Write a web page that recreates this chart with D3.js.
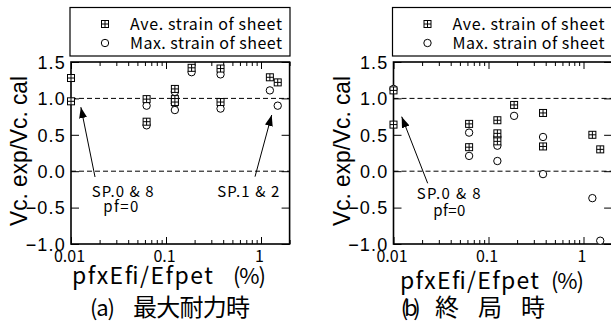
<!DOCTYPE html>
<html>
<head>
<meta charset="utf-8">
<script src="https://cdn.jsdelivr.net/npm/d3@7"></script>
<style>
	body{margin:0;background:#fff;}
	svg{display:block;}
	text{fill:#000;}
</style>
</head>
<body>
<div id="app"></div>
<script>
// pfxEfi/Efpet (%) ; pf=0 specimens are put on the 0.01 axis
const xA = [0.01, 0.01, 0.0625, 0.0625, 0.124, 0.124, 0.124, 0.186, 0.375, 0.375, 1.24, 1.5];
const aveA = [1.28, 0.96, 0.99, 0.68, 1.13, 0.99, 0.95, 1.42, 1.41, 0.95, 1.29, 1.22];
const maxA = [null, null, 0.90, 0.63, 1.09, 0.93, 0.84, 1.36, 1.33, 0.86, 1.11, 0.90];

const xB = [0.01, 0.01, 0.0625, 0.0625, 0.124, 0.124, 0.124, 0.186, 0.375, 0.375, 1.24, 1.5];
const aveB = [1.11, 0.64, 0.65, 0.33, 0.70, 0.52, 0.41, 0.91, 0.80, 0.34, 0.50, 0.30];
const maxB = [1.13, null, 0.53, 0.21, 0.47, 0.35, 0.14, 0.76, 0.47, -0.04, -0.37, -0.955];

const xTicks = [0.01, 0.1, 1];
const xTickLabels = ["0.01", "0.1", "1"];
const xMinor = [0.02,0.03,0.04,0.05,0.06,0.07,0.08,0.09,0.2,0.3,0.4,0.5,0.6,0.7,0.8,0.9,2];
const yTicks = [-1, -0.5, 0, 0.5, 1, 1.5];
const yTickLabels = ["\u22121.0", "\u22120.5", "0.0", "0.5", "1.0", "1.5"];
const refLines = [1, 0];
const legendLabels = ["Ave. strain of sheet", "Max. strain of sheet"];
const yTitle = "Vc. exp/Vc. cal";
const xTitle = "pfxEfi/Efpet";
const xUnit = "(%)";

const W = 611, H = 322;
const gothic = "'Noto Sans CJK JP', sans-serif";
const arial = "'Liberation Sans', Arial, sans-serif";

const svg = d3.select("#app").append("svg").attr("width", W).attr("height", H);

svg.append("defs").append("marker")
	.attr("id", "ah").attr("markerUnits", "userSpaceOnUse")
	.attr("markerWidth", 12).attr("markerHeight", 8)
	.attr("refX", 11).attr("refY", 4).attr("orient", "auto")
	.append("path").attr("d", "M0,0 L11,4 L0,8 Z").attr("fill", "#000");

function squareMark(sel){
	sel.append("rect").attr("x", -3.5).attr("y", -3.5).attr("width", 7).attr("height", 7)
		.attr("fill", "#fff").attr("stroke", "#000").attr("stroke-width", 1);
	sel.append("path").attr("d", "M0,-3.5V3.5M-3.5,0H3.5").attr("stroke", "#000").attr("stroke-width", 1);
}

function txt(g, s, x, y, size, len, family){
	return g.append("text").attr("x", x).attr("y", y)
		.attr("font-family", family || gothic).attr("font-size", size)
		.attr("textLength", len).attr("lengthAdjust", "spacing").text(s);
}

function drawPanel(p){
	const left = p.left, right = left + 218.6, top = 62, bottom = 244;
	const x = d3.scaleLog().domain([0.01, 2]).range([left, right]);
	const y = d3.scaleLinear().domain([-1, 1.5]).range([bottom, top]);
	const g = svg.append("g");

	// legend
	const lg = g.append("g");
	lg.append("rect").attr("x", left - 1).attr("y", 7.5).attr("width", 220).attr("height", 48.5)
		.attr("fill", "none").attr("stroke", "#000").attr("stroke-width", 1.2);
	const sq = lg.append("g").attr("transform", "translate(" + (left + 34) + ",24)");
	squareMark(sq);
	lg.append("circle").attr("cx", left + 34).attr("cy", 43).attr("r", 3.7)
		.attr("fill", "#fff").attr("stroke", "#000");
	legendLabels.forEach(function(t, i){
		txt(lg, t, left + 59, 30 + i * 19, 16, 152);
	});

	// reference lines
	g.selectAll("line.ref").data(refLines).enter().append("line").attr("class", "ref")
		.attr("x1", left).attr("x2", right).attr("y1", d => y(d)).attr("y2", d => y(d))
		.attr("stroke", "#000").attr("stroke-width", 1).attr("stroke-dasharray", "5,3");

	// ticks, inward on all four sides
	const axB = g.append("g").attr("transform", "translate(0," + bottom + ")")
		.call(d3.axisBottom(x).tickValues(xMinor).tickSize(-4).tickSizeOuter(0).tickFormat(""));
	const axBM = g.append("g").attr("transform", "translate(0," + bottom + ")")
		.call(d3.axisBottom(x).tickValues(xTicks).tickSize(-7).tickSizeOuter(0)
			.tickFormat((d, i) => xTickLabels[i]).tickPadding(10));
	const axT = g.append("g").attr("transform", "translate(0," + top + ")")
		.call(d3.axisTop(x).tickValues(xMinor).tickSize(-4).tickSizeOuter(0).tickFormat(""));
	const axTM = g.append("g").attr("transform", "translate(0," + top + ")")
		.call(d3.axisTop(x).tickValues(xTicks).tickSize(-7).tickSizeOuter(0).tickFormat(""));
	const axL = g.append("g").attr("transform", "translate(" + left + ",0)")
		.call(d3.axisLeft(y).tickValues(yTicks).tickSize(-8).tickSizeOuter(0)
			.tickFormat((d, i) => yTickLabels[i]));
	const axR = g.append("g").attr("transform", "translate(" + right + ",0)")
		.call(d3.axisRight(y).tickValues(yTicks).tickSize(-8).tickSizeOuter(0).tickFormat(""));
	[axB, axBM, axT, axTM, axL, axR].forEach(function(a){
		a.select(".domain").remove();
		a.selectAll(".tick line").attr("stroke", "#000").attr("stroke-width", 1);
	});
	axBM.selectAll(".tick text").attr("font-family", gothic).attr("font-size", 16)
		.attr("fill", "#000").attr("dy", null).attr("y", 18).attr("x", -2);
	axL.selectAll(".tick text").attr("font-family", arial).attr("font-size", 18)
		.attr("fill", "#000").attr("x", -5).attr("dy", "0.35em").attr("letter-spacing", "1.2px");

	// frame
	g.append("rect").attr("x", left).attr("y", top).attr("width", right - left).attr("height", bottom - top)
		.attr("fill", "none").attr("stroke", "#000").attr("stroke-width", 1.6);

	// data
	const pts = p.xs.map((d, i) => ({x: d, ave: p.ave[i], max: p.max[i]}));
	g.selectAll("circle.max").data(pts.filter(d => d.max !== null)).enter().append("circle")
		.attr("class", "max").attr("cx", d => x(d.x)).attr("cy", d => y(d.max)).attr("r", 3.7)
		.attr("fill", "#fff").attr("stroke", "#000").attr("stroke-width", 1);
	g.selectAll("g.ave").data(pts).enter().append("g").attr("class", "ave")
		.attr("transform", d => "translate(" + x(d.x) + "," + y(d.ave) + ")")
		.each(function(){ squareMark(d3.select(this)); });

	// annotations
	p.arrows.forEach(function(a){
		g.append("line").attr("x1", x(a[0])).attr("y1", y(a[1])).attr("x2", x(a[2])).attr("y2", y(a[3]))
			.attr("stroke", "#000").attr("stroke-width", 1).attr("marker-end", "url(#ah)");
	});
	p.notes.forEach(function(n){
		txt(g, n[0], left + n[1], n[2], 15, n[3]);
	});

	// titles
	g.append("text").attr("transform", "translate(" + (left - 44) + ",151) rotate(-90)")
		.attr("text-anchor", "middle").attr("font-family", arial).attr("font-size", 24)
		.attr("textLength", 150).attr("lengthAdjust", "spacingAndGlyphs").text(yTitle);
	txt(g, xTitle, left + p.xtDx, p.xtY, 23, p.xtW);
	txt(g, xUnit, left + p.xuDx, p.xtY, 22, 33);
	txt(g, p.capA, left + p.capDx, 316, 22, p.capAW);
	txt(g, p.capB, left + p.capDx2, 316, 24, p.capBW);
}

drawPanel({
	left: 71, xs: xA, ave: aveA, max: maxA,
	arrows: [[0.0179, -0.08, 0.0127, 0.88], [0.865, -0.075, 1.296, 0.772]],
	notes: [["SP.0 & 8", 20.7, 196.7, 62], ["pf=0", 32.3, 212, 35], ["SP.1 & 2", 146.3, 196.7, 62]],
	xtDx: 1, xuDx: 162, xtY: 284, xtW: 141,
	capA: "(a)", capDx: 19, capAW: 25, capB: "最大耐力時", capDx2: 62, capBW: 117
});
drawPanel({
	left: 393.5, xs: xB, ave: aveB, max: maxB,
	arrows: [[0.0229, -0.166, 0.0122, 0.749]],
	notes: [["SP.0 & 8", 23.2, 199.3, 64], ["pf=0", 39.8, 215.5, 32]],
	xtDx: 6.5, xuDx: 157.5, xtY: 288.5, xtW: 139,
	capA: "(b)", capDx: 7.2, capAW: 20, capB: "終局時", capDx2: 41.5, capBW: 110
});
</script>
</body>
</html>
